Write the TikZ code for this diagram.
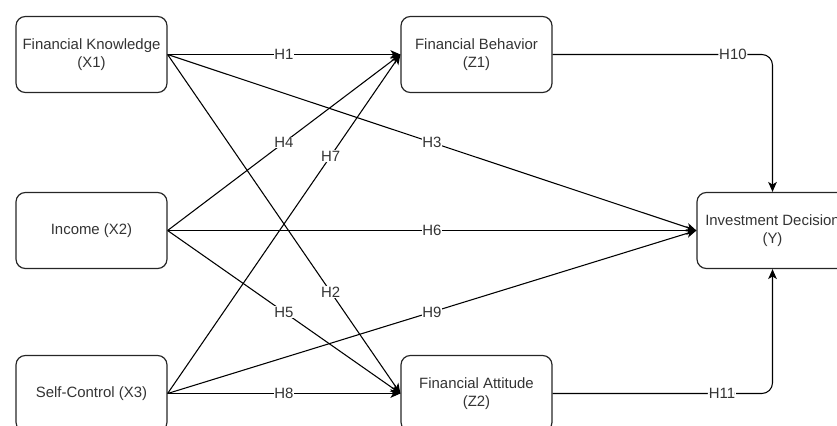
\documentclass[tikz,border=0pt]{standalone}
\usepackage{fontspec}
\setmainfont{Liberation Sans}
\usetikzlibrary{arrows.meta}
\begin{document}
\begin{tikzpicture}[x=0.75pt,y=-0.75pt,
  box/.style={draw=black!85, line width=0.9pt, rounded corners=7pt,
    minimum width=113.25pt, minimum height=57pt, align=center,
    font=\fontsize{11.2}{13.5}\selectfont, text=black!80, inner sep=0pt},
  lbl/.style={fill=white, inner sep=0.6pt, font=\fontsize{11.2}{13}\selectfont, text=black!80},
  conn/.style={draw=black, line width=0.8pt, -{Stealth[length=7.5pt,width=6.5pt,inset=2pt]}}]
\useasboundingbox (0,0) rectangle (837,425);
\clip (0,0) rectangle (837,425);
\node[box] (X1) at (91.5,54.5) {Financial Knowledge\\(X1)};
\node[box] (X2) at (91.5,230.5) {Income (X2)};
\node[box] (X3) at (91.5,393.5) {Self-Control (X3)};
\node[box] (Z1) at (476.5,54.5) {Financial Behavior\\(Z1)};
\node[box] (Z2) at (476.5,393.5) {Financial Attitude\\(Z2)};
\node[box] (Y) at (772.5,230.5) {Investment Decision\\(Y)};

\draw[conn] (X1.east) -- node[lbl] (h1) {H1} (Z1.west);
\draw[conn] (X1.east) -- node[lbl, pos=0.7] (h2) {H2} (Z2.west);
\draw[conn] (X1.east) -- node[lbl] (h3) {H3} (Y.west);
\draw[conn] (X2.east) -- node[lbl] (h4) {H4} (Z1.west);
\draw[conn] (X2.east) -- node[lbl] (h5) {H5} (Z2.west);
\draw[conn] (X2.east) -- node[lbl] (h6) {H6} (Y.west);
\draw[conn] (X3.east) -- node[lbl, pos=0.7] (h7) {H7} (Z1.west);
\draw[conn] (X3.east) -- node[lbl] (h8) {H8} (Z2.west);
\draw[conn] (X3.east) -- node[lbl] (h9) {H9} (Y.west);
\draw[conn, rounded corners=8pt] (Z1.east) -- node[lbl, pos=0.82] (h10) {H10} (Y.north |- Z1.east) -- (Y.north);
\draw[conn, rounded corners=8pt] (Z2.east) -- node[lbl, pos=0.77] (h11) {H11} (Y.south |- Z2.east) -- (Y.south);
\end{tikzpicture}
\end{document}
